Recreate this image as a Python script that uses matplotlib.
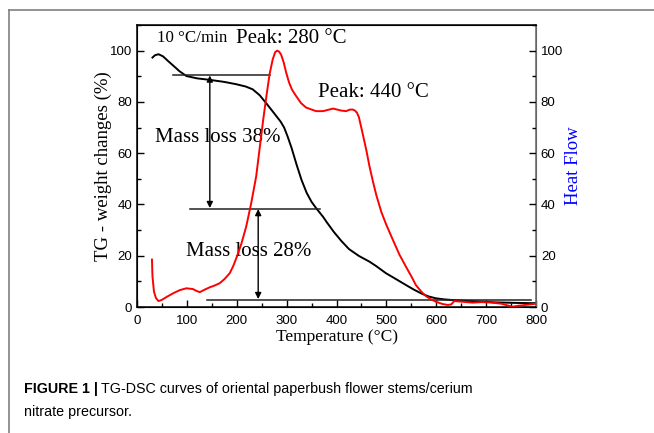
import matplotlib.pyplot as plt
from matplotlib import font_manager
from matplotlib.ticker import MultipleLocator
from matplotlib.lines import Line2D

# TG curve (black), weight %
tg_temp = [31, 36, 43, 52, 62, 73, 85, 99, 120, 146, 175, 199, 218, 232, 246, 259,
           270, 280, 288, 295, 302, 310, 320, 330, 340, 350, 359, 366, 373, 380, 395,
           410, 425, 445, 466, 480, 499, 520, 539, 555, 572, 585, 599, 615, 633,
           660, 690, 719, 760, 792, 800]
tg_val = [97.3, 98.2, 98.6, 97.8, 96.0, 94.1, 92.0, 90.1, 89.2, 88.6, 87.8, 86.9,
          86.0, 84.9, 82.6, 79.5, 76.8, 74.3, 72.3, 70.0, 66.5, 62.0, 55.5, 49.5,
          44.6, 41.0, 38.6, 36.9, 35.2, 33.2, 29.2, 25.7, 22.6, 19.9, 17.7, 15.9,
          13.2, 10.8, 8.6, 6.8, 5.1, 4.1, 3.4, 3.0, 2.7, 2.4, 2.1, 1.8, 1.6, 1.5, 1.5]

# DSC curve (red), heat flow
dsc_temp = [30, 31, 34, 38, 43, 50, 60, 73, 86, 99, 112, 120, 126, 136, 146, 156,
            166, 176, 186, 193, 199, 209, 219, 229, 239, 246, 253, 260, 266, 272,
            277, 281, 285, 289, 294, 299, 305, 311, 319, 329, 339, 359, 373, 393,
            410, 419, 427, 433, 437, 441, 445, 452, 460, 466, 473, 480, 490, 500,
            513, 526, 539, 550, 559, 570, 579, 590, 599, 612, 623, 630, 636, 650,
            673, 690, 706, 730, 753, 765, 779, 796, 800]
dsc_val = [18.5, 12.0, 6.0, 3.5, 2.3, 2.8, 4.0, 5.4, 6.6, 7.3, 7.0, 6.2, 5.8, 6.8,
           7.7, 8.4, 9.3, 11.0, 13.2, 16.0, 19.0, 24.5, 31.4, 40.5, 51.0, 62.0,
           73.0, 83.0, 91.0, 96.5, 99.4, 100.0, 99.6, 98.4, 95.5, 91.5, 87.5, 84.7,
           82.3, 79.5, 77.8, 76.4, 76.4, 77.4, 76.6, 76.4, 77.0, 77.0, 76.6, 75.8,
           74.0, 68.0, 61.0, 55.0, 49.0, 43.5, 37.0, 32.0, 26.2, 20.5, 15.8, 12.0,
           8.6, 6.0, 4.3, 2.9, 2.1, 1.2, 0.8, 1.0, 2.3, 2.1, 1.7, 1.9, 1.8, 1.3,
           0.1, 0.5, 0.8, 1.2, 1.3]

# annotation guide lines (temperature span, level)
guide_spans = [(73, 266), (106, 366), (141, 790)]
guide_levels = [90.5, 38.4, 2.9]
arrow_temps = [146, 243]
arrow_ranges = [(90.3, 38.6), (38.2, 3.1)]

serif = ['Liberation Serif', 'DejaVu Serif']
sans = ['Liberation Sans', 'DejaVu Sans']


def has_font(name):
    try:
        font_manager.findfont(name, fallback_to_default=False)
        return True
    except Exception:
        return False


if has_font('Liberation Sans Narrow'):
    cap_family, cap_size = ['Liberation Sans Narrow', 'Liberation Sans'], 12.5
else:
    cap_family, cap_size = sans, 10.3

fig = plt.figure(figsize=(6.54, 4.33), dpi=100)
fig.add_artist(Line2D([9 / 654, 1.0], [1 - 10 / 433, 1 - 10 / 433], color='#808080', lw=1.2))
fig.add_artist(Line2D([9 / 654, 9 / 654], [0, 1 - 10 / 433], color='#808080', lw=1.2))

ax = fig.add_axes([137 / 654, 1 - 307 / 433, 399 / 654, 282 / 433])
ax.plot(tg_temp, tg_val, color='black', lw=1.4)
for (x0, x1), lvl in zip(guide_spans, guide_levels):
    ax.plot([x0, x1], [lvl, lvl], color='#222222', lw=1.1)
for t, (y0, y1) in zip(arrow_temps, arrow_ranges):
    ax.annotate('', xy=(t, y1), xytext=(t, y0),
                arrowprops=dict(arrowstyle='<|-|>', color='black', lw=1.0,
                                mutation_scale=9, shrinkA=0, shrinkB=0))

ax.set_xlim(0, 800)
ax.set_ylim(0, 110)
ax.xaxis.set_major_locator(MultipleLocator(100))
ax.xaxis.set_minor_locator(MultipleLocator(50))
ax.yaxis.set_minor_locator(MultipleLocator(10))
ax.set_yticks(range(0, 101, 20))
ax.tick_params(which='both', direction='in', labelsize=9.5, width=1, top=False)
ax.tick_params(which='major', length=5)
ax.tick_params(which='minor', length=3)
ax.tick_params(axis='x', pad=6)
for lab in ax.get_xticklabels() + ax.get_yticklabels():
    lab.set_family(sans)
for s in ax.spines.values():
    s.set_linewidth(1.1)
ax.spines['right'].set_color('#666666')

ax2 = ax.twinx()
ax2.plot(dsc_temp, dsc_val, color='red', lw=1.4)
ax2.set_ylim(0, 110)
ax2.set_yticks(range(0, 101, 20))
ax2.yaxis.set_minor_locator(MultipleLocator(10))
ax2.tick_params(which='both', direction='in', labelsize=9.5, width=1)
ax2.tick_params(which='major', length=5)
ax2.tick_params(which='minor', length=3)
for lab in ax2.get_yticklabels():
    lab.set_family(sans)
ax2.spines['right'].set_color('#666666')

ax.set_xlabel('Temperature (°C)', family=serif, fontsize=12.5, labelpad=1)
ax.set_ylabel('TG - weight changes (%)', family=serif, fontsize=13.5, labelpad=-1.5)
ax2.set_ylabel('Heat Flow', family=serif, fontsize=13.5, color='blue', labelpad=1)

ax.text(40, 104.8, '10 °C/min', family=serif, fontsize=12.2, va='center')
ax.text(198, 104.8, 'Peak: 280 °C', family=serif, fontsize=15, va='center')
ax.text(362, 83.6, 'Peak: 440 °C', family=serif, fontsize=15, va='center')
ax.text(36, 66.3, 'Mass loss 38%', family=serif, fontsize=15, va='center')
ax.text(98, 21.8, 'Mass loss 28%', family=serif, fontsize=15, va='center')

bold = fig.text(24 / 654, 1 - 389 / 433, 'FIGURE 1 |', family=cap_family, fontsize=cap_size,
                weight='bold', va='center')
fig.canvas.draw()
bb = bold.get_window_extent()
fig.text((bb.x1 + 3) / 654, 1 - 389 / 433,
         'TG-DSC curves of oriental paperbush flower stems/cerium',
         family=cap_family, fontsize=cap_size, va='center')
fig.text(24 / 654, 1 - 412 / 433, 'nitrate precursor.', family=cap_family,
         fontsize=cap_size, va='center')

fig.savefig('out.png', dpi=100)
